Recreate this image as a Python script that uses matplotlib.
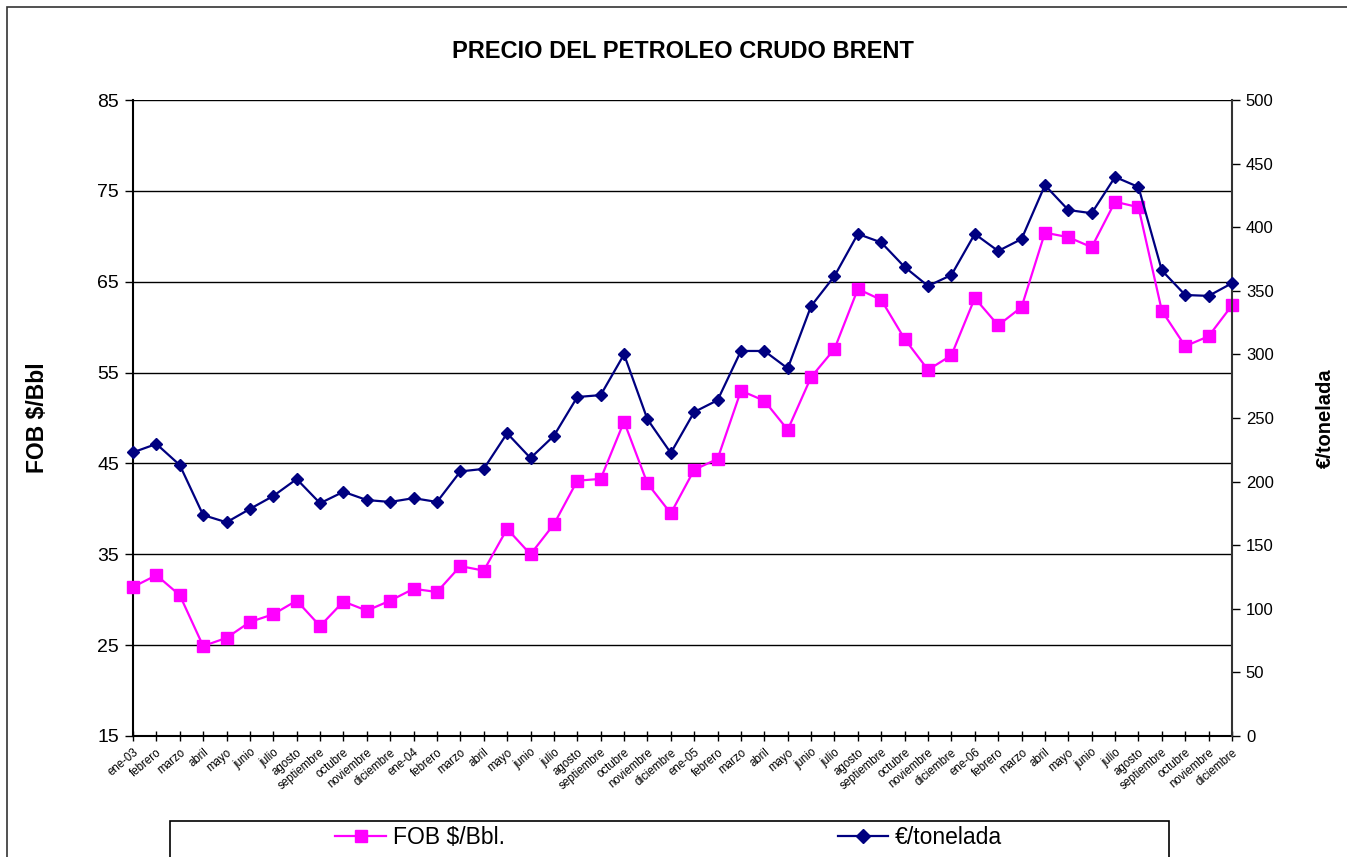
import matplotlib
matplotlib.use("Agg")
import matplotlib.pyplot as plt
from matplotlib.lines import Line2D
from matplotlib.patches import Rectangle

plt.rcParams["font.family"] = ["Liberation Sans", "DejaVu Sans"]

meses = ["febrero", "marzo", "abril", "mayo", "junio", "julio", "agosto",
         "septiembre", "octubre", "noviembre", "diciembre"]
categorias = (["ene-03"] + meses + ["ene-04"] + meses
              + ["ene-05"] + meses + ["ene-06"] + meses)

fob = [31.4, 32.7, 30.5, 24.9, 25.8, 27.55, 28.4, 29.9, 27.1, 29.8, 28.8, 29.9,
       31.2, 30.85, 33.7, 33.2, 37.8, 35.0, 38.3, 43.1, 43.3, 49.6, 42.8, 39.5,
       44.3, 45.5, 53.0, 51.9, 48.7, 54.5, 57.6, 64.2, 63.0, 58.7, 55.3, 56.9,
       63.2, 60.2, 62.2, 70.4, 69.9, 68.8, 73.8, 73.2, 61.8, 57.9, 59.0, 62.4]

eur_ton = [223, 229.6, 213, 173.7, 168, 178.5, 188.7, 202, 183, 192, 185.5, 184,
           187, 184, 208, 210, 238, 218.5, 236, 266.5, 268, 300, 249, 222.5,
           254.7, 264, 302.7, 302.7, 289, 338, 361.6, 394.7, 388, 368.7, 353.8, 362.4,
           394.7, 381.3, 390.7, 433, 413.5, 411, 439.5, 431.6, 366, 346.7, 346, 356]

x = list(range(len(categorias)))

fig = plt.figure(figsize=(13.47, 8.57), dpi=100)
ax = fig.add_axes([133 / 1347, 1 - 736 / 857, (1232 - 133) / 1347, 636 / 857])
ax2 = ax.twinx()

# outer chart frame (Excel chart area border)
fig.patches.append(Rectangle((7 / 1347, -0.1), 1.2, 1 - 7 / 857 + 0.1,
                             transform=fig.transFigure, fill=False,
                             edgecolor="#333333", linewidth=1.2))

magenta = "#FF00FF"
navy = "#000080"

ax.plot(x, fob, color=magenta, linewidth=1.6, marker="s", markersize=8,
        markeredgecolor=magenta, zorder=3, clip_on=False)
ax2.plot(x, eur_ton, color=navy, linewidth=1.6, marker="D", markersize=6.5,
         markeredgecolor=navy, zorder=3, clip_on=False)

ax.set_ylim(15, 85)
ax.set_yticks(range(15, 86, 10))
ax2.set_ylim(0, 500)
ax2.set_yticks(range(0, 501, 50))
ax.set_xlim(0, len(categorias) - 1)

for v in range(25, 86, 10):
    ax.axhline(v, color="black", linewidth=1.0, zorder=1)

ax.set_xticks(x)
ax.set_xticklabels(categorias, rotation=40, ha="right", va="top",
                   rotation_mode="anchor", fontsize=8.3)
ax.tick_params(axis="x", direction="inout", length=7, width=1, pad=4)
ax.tick_params(axis="y", direction="out", length=6, width=1, labelsize=14, pad=4)
ax2.tick_params(axis="y", direction="out", length=6, width=1, labelsize=12, pad=4)

for a in (ax, ax2):
    a.spines["top"].set_visible(False)
    a.patch.set_visible(False)
ax.spines["right"].set_visible(False)
ax2.spines["left"].set_visible(False)
ax2.spines["bottom"].set_visible(False)
ax.spines["left"].set_linewidth(1.5)
ax.spines["bottom"].set_linewidth(1.5)
ax2.spines["right"].set_linewidth(1.5)
ax2.spines["right"].set_color("#333333")

fig.text(683 / 1347, 1 - 52 / 857, "PRECIO DEL PETROLEO CRUDO BRENT",
         ha="center", va="center", fontsize=17, fontweight="bold")
fig.text(38 / 1347, 1 - 418 / 857, "FOB $/Bbl", rotation=90,
         ha="center", va="center", fontsize=16.5, fontweight="bold")
fig.text(1325 / 1347, 1 - 418 / 857, "€/tonelada", rotation=90,
         ha="center", va="center", fontsize=14.5, fontweight="bold")

# legend box along the bottom
fig.patches.append(Rectangle((170 / 1347, -0.05), (1169 - 170) / 1347,
                             0.05 + 1 - 821 / 857, transform=fig.transFigure,
                             fill=False, edgecolor="black", linewidth=1.2))
h1 = Line2D([], [], color=magenta, linewidth=1.6, marker="s", markersize=9)
h2 = Line2D([], [], color=navy, linewidth=1.6, marker="D", markersize=7)
leg1 = fig.legend([h1], ["FOB $/Bbl."], loc="center",
                  bbox_to_anchor=(420 / 1347, 1 - 838 / 857), frameon=False,
                  fontsize=16.5, handlelength=2.2, handletextpad=0.3)
leg2 = fig.legend([h2], ["€/tonelada"], loc="center",
                  bbox_to_anchor=(920 / 1347, 1 - 838 / 857), frameon=False,
                  fontsize=16.5, handlelength=2.2, handletextpad=0.3)

fig.savefig("out.png", dpi=100)
